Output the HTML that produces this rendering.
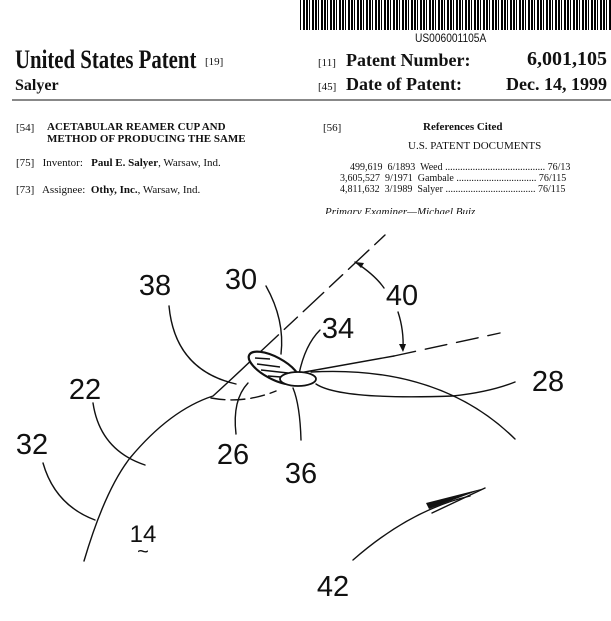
<!DOCTYPE html>
<html><head><meta charset="utf-8"><style>
body{margin:0;width:611px;height:621px;background:#fff;overflow:hidden;position:relative;font-family:"Liberation Serif",serif;color:#111}
.a{position:absolute;white-space:nowrap}
</style></head><body>
<svg class="a" style="left:0;top:0" width="611" height="621" viewBox="0 0 611 621">
<defs><pattern id="bc" width="9" height="30" patternUnits="userSpaceOnUse"><rect x="0" width="2" height="30" fill="#000"/><rect x="3" width="1" height="30" fill="#000"/><rect x="6" width="2" height="30" fill="#000"/></pattern></defs>
<rect x="300" y="0" width="311" height="30" fill="url(#bc)"/>
<rect x="12" y="99" width="599" height="2" fill="#888"/>
<g fill="none" stroke="#111" stroke-width="1.4" stroke-linecap="round">
<path d="M84 561 Q105 490 130 458 Q170 410 213 396 Q235 376 258 354"/>
<path d="M258 354 L385 235" stroke-dasharray="28 8 18 8"/>
<path d="M43 463 Q55 505 95 520"/>
<path d="M93 403 Q100 450 145 465"/>
<path d="M169 306 Q175 370 236 384"/>
<path d="M266 286 Q285 320 281 354"/>
<path d="M211 398 Q244 404 276 391" stroke-dasharray="14 6"/>
<path d="M236 434 Q232 400 248 383"/>
<path d="M301 440 Q300 405 293 388"/>
<path d="M299 374 Q305 345 320 330"/>
<path d="M299 373 L394 356"/>
<path d="M394 356 L500 333" stroke-dasharray="22 10"/>
<path d="M311 372 Q440 365 515 439"/>
<path d="M316 384 Q340 400 453 396 Q490 392 515 382"/>
<path d="M355 262 Q375 275 384 288"/>
<path d="M398 312 Q404 330 403 350"/>
<path d="M353 560 Q410 510 470 496"/>
<path d="M432 513 L485 488"/>
</g>
<g fill="#111"><path d="M355 262 l9 1 -3 5z"/><path d="M403 352 l-4 -8 7 0z"/><path d="M426 503 L485 488 L429 509z"/></g>
<g stroke="#111" stroke-width="2.2" fill="#fff">
<ellipse cx="274" cy="368" rx="28" ry="11" transform="rotate(28 274 368)"/>
</g>
<g stroke="#111" stroke-width="1.6">
<line x1="255" y1="358" x2="270" y2="359"/><line x1="257" y1="364" x2="280" y2="367"/><line x1="261" y1="370" x2="288" y2="373"/><line x1="268" y1="376" x2="294" y2="378"/>
</g>
<ellipse cx="298" cy="379" rx="18" ry="7" fill="#fff" stroke="#111" stroke-width="1.8"/>
<g font-family="Liberation Sans,sans-serif" font-size="29" fill="#111" text-anchor="middle">
<text x="155" y="295">38</text><text x="241" y="289">30</text><text x="402" y="305">40</text>
<text x="338" y="338">34</text><text x="85" y="399">22</text><text x="548" y="391">28</text>
<text x="32" y="454">32</text><text x="233" y="464">26</text><text x="301" y="483">36</text>
<text x="143" y="542" font-size="24">14</text><text x="143" y="558" font-size="20">~</text>
<text x="333" y="596">42</text>
</g>
</svg>
<div class="a" style="left:415px;top:31px;font-family:'Liberation Sans',sans-serif;font-size:12px;transform:scaleX(.85);transform-origin:left">US006001105A</div>
<div class="a" style="left:15px;top:45px;font-size:26px;font-weight:bold;transform:scaleX(.8);transform-origin:left">United States Patent</div>
<div class="a" style="left:205px;top:56px;font-size:11px">[19]</div>
<div class="a" style="left:15px;top:77px;font-size:16px;font-weight:bold">Salyer</div>
<div class="a" style="left:318px;top:57px;font-size:11px">[11]</div>
<div class="a" style="left:346px;top:50px;font-size:18px;font-weight:bold">Patent Number:</div>
<div class="a" style="right:4px;top:48px;font-size:20px;font-weight:bold">6,001,105</div>
<div class="a" style="left:318px;top:81px;font-size:11px">[45]</div>
<div class="a" style="left:346px;top:74px;font-size:18px;font-weight:bold">Date of Patent:</div>
<div class="a" style="right:4px;top:74px;font-size:18px;font-weight:bold">Dec. 14, 1999</div>
<div class="a" style="left:16px;top:122px;font-size:11px">[54]</div>
<div class="a" style="left:47px;top:121px;font-size:11px;font-weight:bold;line-height:12px">ACETABULAR REAMER CUP AND<br>METHOD OF PRODUCING THE SAME</div>
<div class="a" style="left:16px;top:157px;font-size:11px">[75]&nbsp;&nbsp; Inventor:&nbsp;&nbsp; <b>Paul E. Salyer</b>, Warsaw, Ind.</div>
<div class="a" style="left:16px;top:184px;font-size:11px">[73]&nbsp;&nbsp; Assignee:&nbsp; <b>Othy, Inc.</b>, Warsaw, Ind.</div>
<div class="a" style="left:323px;top:122px;font-size:11px">[56]</div>
<div class="a" style="left:423px;top:121px;font-size:11px;font-weight:bold">References Cited</div>
<div class="a" style="left:408px;top:140px;font-size:11px">U.S. PATENT DOCUMENTS</div>
<div class="a" style="left:340px;top:162px;font-size:10px;line-height:11px">&nbsp;&nbsp;&nbsp;&nbsp;499,619&nbsp; 6/1893&nbsp; Weed ........................................ 76/13<br>3,605,527&nbsp; 9/1971&nbsp; Gambale ................................ 76/115<br>4,811,632&nbsp; 3/1989&nbsp; Salyer .................................... 76/115</div>
<div class="a" style="left:325px;top:206px;font-size:11px;height:8px;overflow:hidden;font-style:italic">Primary Examiner—Michael Buiz</div>
</body></html>
